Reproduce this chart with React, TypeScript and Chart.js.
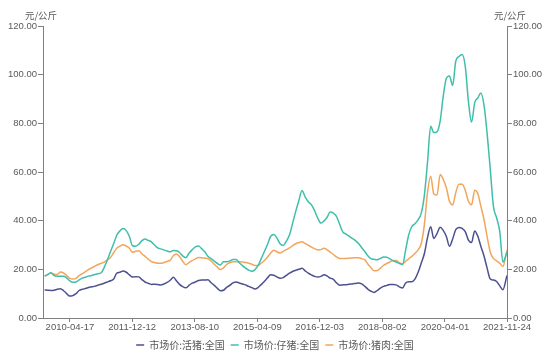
import { useEffect, useRef } from 'react';
import { Chart, registerables } from 'chart.js';

Chart.register(...registerables);

// Category dates (monthly observations, last one at the final tick date)
const dates = [
  '2009-08-15', '2009-09-15', '2009-10-15', '2009-11-15', '2009-12-15',
  '2010-01-15', '2010-02-15', '2010-03-15', '2010-04-15', '2010-05-15', '2010-06-15', '2010-07-15', '2010-08-15', '2010-09-15', '2010-10-15', '2010-11-15', '2010-12-15',
  '2011-01-15', '2011-02-15', '2011-03-15', '2011-04-15', '2011-05-15', '2011-06-15', '2011-07-15', '2011-08-15', '2011-09-15', '2011-10-15', '2011-11-15', '2011-12-15',
  '2012-01-15', '2012-02-15', '2012-03-15', '2012-04-15', '2012-05-15', '2012-06-15', '2012-07-15', '2012-08-15', '2012-09-15', '2012-10-15', '2012-11-15', '2012-12-15',
  '2013-01-15', '2013-02-15', '2013-03-15', '2013-04-15', '2013-05-15', '2013-06-15', '2013-07-15', '2013-08-15', '2013-09-15', '2013-10-15', '2013-11-15', '2013-12-15',
  '2014-01-15', '2014-02-15', '2014-03-15', '2014-04-15', '2014-05-15', '2014-06-15', '2014-07-15', '2014-08-15', '2014-09-15', '2014-10-15', '2014-11-15', '2014-12-15',
  '2015-01-15', '2015-02-15', '2015-03-15', '2015-04-15', '2015-05-15', '2015-06-15', '2015-07-15', '2015-08-15', '2015-09-15', '2015-10-15', '2015-11-15', '2015-12-15',
  '2016-01-15', '2016-02-15', '2016-03-15', '2016-04-15', '2016-05-15', '2016-06-15', '2016-07-15', '2016-08-15', '2016-09-15', '2016-10-15', '2016-11-15', '2016-12-15',
  '2017-01-15', '2017-02-15', '2017-03-15', '2017-04-15', '2017-05-15', '2017-06-15', '2017-07-15', '2017-08-15', '2017-09-15', '2017-10-15', '2017-11-15', '2017-12-15',
  '2018-01-15', '2018-02-15', '2018-03-15', '2018-04-15', '2018-05-15', '2018-06-15', '2018-07-15', '2018-08-15', '2018-09-15', '2018-10-15', '2018-11-15', '2018-12-15',
  '2019-01-15', '2019-02-15', '2019-03-15', '2019-04-15', '2019-05-15', '2019-06-15', '2019-07-15', '2019-08-15', '2019-09-15', '2019-10-15', '2019-11-15', '2019-12-15',
  '2020-01-15', '2020-02-15', '2020-03-15', '2020-04-15', '2020-05-15', '2020-06-15', '2020-07-15', '2020-08-15', '2020-09-15', '2020-10-15', '2020-11-15', '2020-12-15',
  '2021-01-15', '2021-02-15', '2021-03-15', '2021-04-15', '2021-05-15', '2021-06-15', '2021-07-15', '2021-08-15', '2021-09-15', '2021-10-15', '2021-11-24',
];

// 市场价:活猪:全国
const liveHog = [
  11.5, 11.4, 11.3, 11.4, 11.8,
  12.0, 11.2, 10.1, 9.0, 9.2, 10.0, 11.3, 11.8, 12.1, 12.5, 12.8, 13.1,
  13.5, 13.9, 14.3, 14.8, 15.3, 16.0, 18.4, 18.8, 19.3, 18.8, 17.7, 16.8,
  17.0, 16.9, 15.8, 14.8, 14.3, 13.8, 13.9, 13.8, 13.6, 14.0, 14.6, 15.5,
  16.7, 15.2, 13.8, 12.9, 12.4, 13.4, 14.3, 14.8, 15.4, 15.6, 15.6, 15.7,
  14.5, 13.4, 12.3, 11.2, 11.4, 12.6, 13.4, 14.4, 14.8, 14.4, 14.0, 13.6,
  13.0, 12.5, 11.9, 12.5, 13.7, 15.0, 16.4, 17.8, 17.6, 16.9, 16.3, 16.6,
  17.5, 18.4, 19.1, 19.6, 20.0, 20.4, 19.4, 18.4, 17.7, 17.1, 16.8, 17.1,
  17.8, 17.2, 16.4, 15.9, 14.5, 13.5, 13.6, 13.7, 13.9, 14.0, 14.2, 14.4,
  14.0, 13.0, 11.9, 11.0, 10.5, 11.3, 12.3, 13.0, 13.4, 13.8, 13.8, 13.6,
  12.8, 12.3, 14.3, 14.9, 14.9, 16.0, 18.7, 22.5, 26.5, 33.0, 37.5, 32.7,
  34.7, 37.3, 36.0, 33.5, 29.5, 32.5, 36.3, 37.2, 36.8, 35.5, 32.0, 31.0,
  35.8, 33.5, 29.5, 25.5, 20.5, 16.0, 15.6, 15.0, 13.2, 11.6, 17.5,
];

// 市场价:仔猪:全国
const piglet = [
  17.2, 17.9, 18.6, 17.4, 17.2,
  17.2, 17.2, 16.5, 15.3, 14.7, 14.8, 15.7, 16.4, 16.8, 17.2, 17.5, 17.9,
  18.2, 18.6, 20.7, 23.8, 27.2, 30.5, 34.0, 35.8, 36.8, 35.9, 33.5, 29.7,
  29.5, 30.3, 31.8, 32.5, 31.9, 31.3, 30.0, 28.8, 28.4, 28.0, 27.5, 27.2,
  27.7, 27.6, 26.9, 25.5, 24.8, 26.6, 28.0, 29.2, 29.6, 28.5, 27.2, 25.4,
  24.4, 23.4, 22.5, 21.8, 23.1, 23.1, 23.4, 24.0, 24.0, 22.7, 21.5, 20.5,
  19.7, 19.2, 19.8, 21.5, 24.3, 27.2, 30.1, 33.5, 34.3, 32.9, 30.5, 29.8,
  31.6, 34.2, 38.8, 43.8, 48.2, 52.4, 49.8, 47.8, 46.5, 44.1, 41.0, 39.0,
  39.9, 41.5, 43.6, 43.1, 41.8, 38.5, 35.4, 34.5, 33.6, 32.7, 31.8, 30.6,
  28.9, 27.2, 25.6, 24.4, 24.1, 23.9, 24.5, 25.1, 25.0, 24.3, 23.5, 23.0,
  22.4, 22.0, 27.5, 34.0, 37.5, 38.7, 40.3, 43.0, 50.5, 64.0, 78.8, 76.2,
  76.5, 81.0, 91.0, 98.5, 99.5, 95.5, 105.5, 107.5, 108.3, 103.5, 89.0, 80.5,
  88.5, 90.5, 92.5, 87.5, 76.0, 61.0, 46.0, 41.2, 35.5, 23.0, 27.0,
];

// 市场价:猪肉:全国
const pork = [
  17.2, 17.9, 18.5, 18.0, 17.9,
  18.9, 18.5, 17.5, 16.3, 16.0, 16.3, 17.4, 18.2, 19.1, 19.9, 20.6, 21.3,
  22.0, 22.5, 23.0, 23.9, 24.9, 26.8, 28.7, 29.5, 30.1, 29.6, 28.7, 27.0,
  27.4, 27.6, 26.4, 25.3, 24.2, 23.2, 22.8, 22.5, 22.5, 22.8, 23.3, 23.8,
  25.7, 26.2, 25.3, 23.3, 21.9, 22.8, 23.6, 24.3, 24.9, 24.8, 24.6, 24.4,
  23.4, 22.1, 21.0, 19.9, 20.6, 22.0, 22.7, 23.1, 23.1, 23.1, 23.0, 22.8,
  22.5, 22.1, 21.6, 21.6, 22.5, 23.5, 25.0, 26.6, 27.8, 27.2, 26.7, 27.4,
  28.1, 28.8, 29.7, 30.5, 31.0, 31.3, 30.6, 29.9, 29.1, 28.5, 28.0, 28.1,
  28.7, 28.0, 27.1, 26.1, 25.1, 24.5, 24.5, 24.5, 24.6, 24.7, 24.8, 24.8,
  24.4, 23.9, 22.2, 20.7, 19.4, 19.5, 20.5, 21.6, 22.4, 23.0, 23.6, 23.6,
  22.7, 22.2, 23.3, 24.3, 25.3, 26.5, 28.0, 30.5, 38.5, 51.5, 58.3, 51.0,
  50.5, 59.0, 57.0, 53.5, 48.0, 46.5, 51.5, 55.0, 55.0, 52.5, 48.0, 46.5,
  52.5, 51.0, 46.0, 40.5, 33.5, 27.0, 24.5, 23.5, 22.5, 21.2, 28.0,
];

const seriesNames = ['市场价:活猪:全国', '市场价:仔猪:全国', '市场价:猪肉:全国'];
const seriesColors = ['#4b5190', '#3fbfab', '#f2a65c'];
const xTickLabels = ['2010-04-17', '2011-12-12', '2013-08-10', '2015-04-09', '2016-12-03', '2018-08-02', '2020-04-01', '2021-11-24'];
const xStart = '2009-07-30';
const yMin = 0;
const yMax = 120;
const yStep = 20;
const unitLabel = '元/公斤';

const toDay = (s: string) => {
  const [y, m, d] = s.split('-').map(Number);
  return Date.UTC(y, m - 1, d) / 86400000;
};

const TEXT = '#595959';
const AXIS = '#808080';
const NUM_FONT = '"Liberation Sans", Arial, sans-serif';
const CJK_FONT = '"Noto Sans CJK SC", sans-serif';

const unitPlugin = {
  id: 'unitLabels',
  afterDraw(chart: any) {
    const { ctx, chartArea } = chart;
    ctx.save();
    ctx.font = `9.5px ${CJK_FONT}`;
    ctx.fillStyle = TEXT;
    ctx.textAlign = 'center';
    ctx.textBaseline = 'middle';
    ctx.fillText(unitLabel, chartArea.left - 2, 15);
    ctx.fillText(unitLabel, chartArea.right + 3, 15);
    ctx.restore();
  },
};

export default function App() {
  const canvasRef = useRef<HTMLCanvasElement | null>(null);

  useEffect(() => {
    document.body.style.margin = '0';
    const canvas = canvasRef.current;
    if (!canvas) return;
    const seriesValues = [liveHog, piglet, pork];
    const yAxisCommon = (position: 'left' | 'right') => ({
      type: 'linear' as const,
      position,
      min: yMin,
      max: yMax,
      afterFit: (scale: any) => {
        scale.width = 43;
      },
      ticks: {
        stepSize: yStep,
        callback: (v: any) => Number(v).toFixed(2),
        color: TEXT,
        font: { size: 9.5, family: NUM_FONT },
        padding: 1,
      },
      grid: { drawOnChartArea: false, drawTicks: true, tickLength: 5, color: AXIS },
      border: { color: AXIS, width: 1 },
    });

    const chart = new Chart(canvas, {
      type: 'line',
      data: {
        datasets: seriesNames.map((name, i) => ({
          label: name,
          data: dates.map((d, j) => ({ x: toDay(d), y: seriesValues[i][j] })),
          borderColor: seriesColors[i],
          backgroundColor: seriesColors[i],
          borderWidth: 1.5,
          pointRadius: 0,
          cubicInterpolationMode: 'monotone' as const,
          fill: false,
          yAxisID: 'y',
        })),
      },
      options: {
        animation: false,
        responsive: true,
        maintainAspectRatio: false,
        layout: { padding: { top: 26, bottom: 2, left: 0, right: 0 } },
        plugins: {
          legend: {
            position: 'bottom',
            labels: {
              usePointStyle: true,
              pointStyle: 'line',
              pointStyleWidth: 8,
              padding: 6,
              color: TEXT,
              font: { size: 10, family: CJK_FONT },
            },
          },
          tooltip: { enabled: false },
        },
        scales: {
          x: {
            type: 'linear',
            min: toDay(xStart),
            max: toDay(xTickLabels[xTickLabels.length - 1]),
            afterBuildTicks: (scale: any) => {
              scale.ticks = xTickLabels.map((s) => ({ value: toDay(s) }));
            },
            afterFit: (scale: any) => {
              scale.height = 16;
            },
            ticks: {
              autoSkip: false,
              maxRotation: 0,
              padding: 0,
              color: TEXT,
              font: { size: 9.5, family: NUM_FONT },
              callback: (v: any) => xTickLabels.find((s) => toDay(s) === v) ?? '',
            },
            grid: { drawOnChartArea: false, drawTicks: true, tickLength: 4, color: AXIS },
            border: { color: AXIS, width: 1 },
          },
          y: yAxisCommon('left'),
          y1: yAxisCommon('right'),
        },
      },
      plugins: [unitPlugin],
    });
    return () => chart.destroy();
  }, []);

  return (
    <div style={{ width: 550, height: 362, position: 'relative', background: '#ffffff' }}>
      <canvas ref={canvasRef} />
    </div>
  );
}
